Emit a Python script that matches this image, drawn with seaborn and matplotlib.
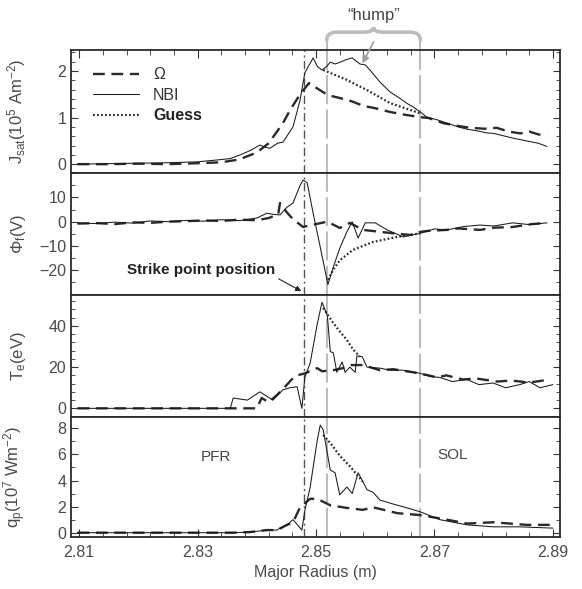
import numpy as np
import pandas as pd
import matplotlib
matplotlib.use("Agg")
import matplotlib.pyplot as plt
import seaborn as sns
from matplotlib.path import Path
from matplotlib.patches import PathPatch
from matplotlib.ticker import MultipleLocator, FixedLocator, FormatStrFormatter

sns.set_style("ticks")
plt.rcParams['font.family'] = ['Liberation Sans', 'DejaVu Sans']
plt.rcParams['mathtext.default'] = 'regular'

# ---------- dados ----------
strike_r = 2.8479          # posição do strike point
hump_lo, hump_hi = 2.8518, 2.8676
x_ticks = [2.81, 2.83, 2.85, 2.87, 2.89]

# J_sat
r_j_omega = [2.8097, 2.815, 2.820, 2.825, 2.830, 2.834, 2.837, 2.840, 2.842, 2.8444, 2.8456,
             2.8473, 2.8488, 2.8495, 2.8505, 2.852, 2.854, 2.856, 2.858, 2.860, 2.8625, 2.865,
             2.8675, 2.869, 2.8715, 2.874, 2.876, 2.8785, 2.8805, 2.8825, 2.8845, 2.886, 2.8875, 2.889]
j_omega = [0.0, 0.0, 0.01, 0.0, 0.02, 0.04, 0.1, 0.25, 0.45, 0.88, 1.16,
           1.5, 1.74, 1.68, 1.6, 1.48, 1.42, 1.35, 1.25, 1.2, 1.12, 1.06,
           1.01, 0.99, 0.88, 0.82, 0.78, 0.76, 0.78, 0.70, 0.66, 0.70, 0.64, 0.60]
r_j_nbi = [2.8097, 2.815, 2.820, 2.825, 2.830, 2.8333, 2.8355, 2.8372, 2.839, 2.8405, 2.8415,
           2.8422, 2.8435, 2.8444, 2.8461, 2.8473, 2.8481, 2.8495, 2.8502, 2.8510, 2.8518,
           2.8524, 2.8532, 2.8541, 2.8550, 2.8561, 2.8574, 2.8583, 2.8591, 2.8608, 2.8625,
           2.8643, 2.8654, 2.8665, 2.8676, 2.8687, 2.8705, 2.8721, 2.874, 2.8755, 2.877,
           2.8789, 2.880, 2.8832, 2.8855, 2.8875, 2.889]
j_nbi = [0.0, 0.01, 0.02, 0.03, 0.05, 0.09, 0.12, 0.2, 0.3, 0.41, 0.36,
         0.34, 0.45, 0.47, 0.80, 1.38, 1.96, 2.28, 2.1, 2.02, 2.1,
         2.19, 2.15, 2.19, 2.24, 2.28, 2.15, 2.13, 2.02, 1.76, 1.55,
         1.4, 1.3, 1.22, 1.12, 1.01, 0.95, 0.88, 0.8, 0.75, 0.72,
         0.67, 0.66, 0.56, 0.5, 0.45, 0.38]
r_j_guess = [2.8512, 2.8550, 2.8586, 2.8625, 2.8676]
j_guess = [2.02, 1.82, 1.59, 1.31, 1.09]

# Phi_f
r_phi_omega = [2.8097, 2.813, 2.816, 2.819, 2.822, 2.825, 2.828, 2.831, 2.834, 2.837, 2.840,
               2.842, 2.8436, 2.8439, 2.8450, 2.8461, 2.8478, 2.849, 2.8519, 2.854, 2.8557,
               2.8579, 2.8608, 2.8637, 2.8660, 2.8676, 2.8690, 2.8721, 2.874, 2.8777, 2.880,
               2.8832, 2.8865, 2.889]
phi_omega = [-0.8, -0.6, -1.0, -0.3, -0.5, 0.0, 0.2, 0.5, 0.3, 0.8, 0.6,
             1.5, 3.0, 7.7, 4.0, 1.0, -2.2, -1.5, 0.0, -2.6, -0.5,
             -3.4, -4.2, -5.0, -5.5, -4.2, -3.8, -3.4, -2.8, -3.4, -2.5,
             -2.2, -1.0, -0.5]
r_phi_nbi = [2.8097, 2.813, 2.816, 2.819, 2.822, 2.825, 2.828, 2.831, 2.834, 2.837, 2.840,
             2.8417, 2.8428, 2.8439, 2.8451, 2.8461, 2.8473, 2.8478, 2.8485, 2.8495, 2.8507,
             2.8520, 2.8529, 2.8540, 2.8552, 2.8561, 2.8571, 2.8583, 2.8600, 2.8620, 2.8647,
             2.8676, 2.870, 2.8721, 2.875, 2.8777, 2.880, 2.8832, 2.886, 2.889]
phi_nbi = [-0.6, -0.8, -0.2, -0.6, 0.3, 0.0, 0.5, 0.2, 0.8, 0.4, 1.5,
           3.5, 3.0, 2.8, 6.0, 7.7, 15.0, 17.2, 16.0, 3.5, -10.5,
           -26.0, -18.8, -11.0, -4.2, -0.1, -6.8, -0.5, -0.5, -3.4, -6.3,
           -4.8, -3.0, -3.4, -2.0, -1.4, -1.8, -0.5, -1.2, -0.5]
r_phi_guess = [2.8520, 2.8530, 2.8540, 2.8562, 2.8596, 2.8637, 2.8676]
phi_guess = [-24.0, -19.5, -16.0, -11.7, -8.4, -6.3, -4.8]

# T_e
r_te_omega = [2.8097, 2.8400, 2.8408, 2.8420, 2.8434, 2.8446, 2.8461, 2.8468, 2.8481, 2.8502,
              2.8510, 2.8529, 2.8545, 2.856, 2.8579, 2.8608, 2.863, 2.8664, 2.8690, 2.8704,
              2.872, 2.8748, 2.877, 2.8806, 2.883, 2.886, 2.8895]
te_omega = [0.0, 0.0, 5.0, 3.0, 6.5, 10.0, 14.7, 16.0, 17.0, 19.5,
            18.0, 18.5, 19.5, 21.0, 21.0, 18.5, 19.0, 17.5, 16.0, 15.0,
            16.0, 14.0, 14.5, 13.0, 13.5, 12.5, 14.0]
r_te_nbi = [2.8097, 2.8355, 2.8360, 2.8384, 2.8405, 2.8427, 2.8444, 2.8456, 2.8468, 2.8476,
            2.8481, 2.8490, 2.8502, 2.8510, 2.8519, 2.8524, 2.8529, 2.8535, 2.8544, 2.8549,
            2.8557, 2.8566, 2.8569, 2.8578, 2.8586, 2.8608, 2.8625, 2.8647, 2.8676, 2.8692,
            2.8709, 2.8730, 2.8755, 2.8775, 2.8799, 2.8820, 2.8844, 2.8860, 2.8878, 2.8900]
te_nbi = [0.0, 0.0, 5.0, 4.0, 8.0, 4.0, 9.0, 10.0, 10.5, 0.0,
          15.0, 22.0, 41.0, 51.5, 45.0, 27.5, 27.0, 17.5, 22.5, 17.5,
          20.0, 17.5, 25.5, 25.0, 20.0, 19.5, 18.5, 18.5, 17.0, 15.5,
          15.0, 13.0, 14.0, 11.5, 12.3, 10.0, 11.5, 13.0, 10.0, 11.5]
r_te_guess = [2.8512, 2.8529, 2.8540, 2.8552, 2.8562, 2.8574]
te_guess = [48.7, 41.4, 37.3, 33.2, 28.8, 25.0]

# q_p
r_q_omega = [2.8097, 2.8360, 2.8389, 2.8417, 2.8434, 2.8451, 2.8461, 2.8473, 2.8490, 2.8502,
             2.8524, 2.8552, 2.8579, 2.8596, 2.8637, 2.8676, 2.8721, 2.8755, 2.8799, 2.8856,
             2.8895]
q_omega = [0.0, 0.0, 0.05, 0.2, 0.2, 0.6, 0.8, 1.95, 2.6, 2.6,
           2.1, 1.9, 1.75, 1.95, 1.5, 1.35, 1.0, 0.7, 0.8, 0.6,
           0.6]
r_q_nbi = [2.8097, 2.8360, 2.8389, 2.8417, 2.8434, 2.8439, 2.8451, 2.8461, 2.8476, 2.8481,
           2.8490, 2.8502, 2.8507, 2.8512, 2.8524, 2.8532, 2.8540, 2.8552, 2.8561, 2.8571,
           2.8578, 2.8586, 2.8596, 2.8608, 2.8630, 2.8654, 2.8676, 2.8709, 2.8755, 2.8799,
           2.8844, 2.8900]
q_nbi = [0.0, 0.0, 0.05, 0.2, 0.2, 0.35, 0.6, 1.0, 0.2, 1.7,
         3.5, 7.1, 8.25, 7.9, 4.8, 4.6, 2.9, 3.5, 3.0, 4.6,
         4.0, 3.3, 3.1, 2.5, 2.2, 1.9, 1.6, 1.0, 0.6, 0.45,
         0.45, 0.35]
r_q_guess = [2.8512, 2.8527, 2.8540, 2.8557, 2.8579]
q_guess = [7.5, 6.7, 5.9, 5.1, 3.9]

panels = [
    (r_j_omega, j_omega, r_j_nbi, j_nbi, r_j_guess, j_guess,
     r'J$_{sat}$(10$^5$ Am$^{-2}$)', (-0.19, 2.45), [0, 1, 2], 0.2),
    (r_phi_omega, phi_omega, r_phi_nbi, phi_nbi, r_phi_guess, phi_guess,
     r'$\Phi_f$(V)', (-30.3, 20.1), [-20, -10, 0, 10], 5),
    (r_te_omega, te_omega, r_te_nbi, te_nbi, r_te_guess, te_guess,
     r'T$_e$(eV)', (-4.2, 55), [0, 20, 40], 4),
    (r_q_omega, q_omega, r_q_nbi, q_nbi, r_q_guess, q_guess,
     r'q$_p$(10$^7$ Wm$^{-2}$)', (-0.33, 8.87), [0, 2, 4, 6, 8], 1),
]

# ---------- figura ----------
W, H = 582, 589
fig = plt.figure(figsize=(W / 100, H / 100), dpi=100)
x0, x1 = 71, 560
edges = [50, 173, 295, 417, 537]
txt_c = '#4a4a4a'
axes = []
for i, (ro, vo, rn, vn, rg, vg, ylab, ylim, yt, mnr) in enumerate(panels):
    ax = fig.add_axes([x0 / W, 1 - edges[i + 1] / H, (x1 - x0) / W, (edges[i + 1] - edges[i]) / H])
    axes.append(ax)
    sns.lineplot(x=ro, y=vo, ax=ax, color='#2a2a2a', lw=1.7, estimator=None, sort=False,
                 label='Ω', zorder=3)
    ax.lines[-1].set_dashes((5, 2.8))
    sns.lineplot(x=rn, y=vn, ax=ax, color='#1a1a1a', lw=0.75, estimator=None, sort=False,
                 label='NBI', zorder=3)
    sns.lineplot(x=rg, y=vg, ax=ax, color='#2a2a2a', lw=1.6, estimator=None, sort=False,
                 label='Guess', zorder=3)
    ax.lines[-1].set_dashes((0.8, 1.0))
    ax.axvline(strike_r, color='#555555', lw=1.0, dashes=(6, 2.5, 1.5, 2.5), zorder=1)
    for xv in (hump_lo, hump_hi):
        ax.axvline(xv, color='#bcbcbc', lw=1.5, dashes=(14, 2.5), zorder=1)
    ax.set_xlim(2.8086, 2.8912)
    ax.set_ylim(*ylim)
    ax.yaxis.set_major_locator(FixedLocator(yt))
    ax.yaxis.set_minor_locator(MultipleLocator(mnr))
    ax.xaxis.set_major_locator(FixedLocator(x_ticks))
    ax.xaxis.set_minor_locator(MultipleLocator(0.004, offset=0.002))
    ax.set_ylabel(ylab, fontsize=12, color=txt_c)
    ax.yaxis.set_label_coords(-0.088, 0.5)
    ax.tick_params(axis='y', which='both', direction='in', left=True, right=True,
                   labelsize=11.5, labelcolor=txt_c, color='#333333')
    ax.tick_params(axis='y', which='major', length=5)
    ax.tick_params(axis='y', which='minor', length=3)
    ax.tick_params(axis='x', which='both', direction='in', top=(i == 0), bottom=(i == 3),
                   labelbottom=(i == 3), labelsize=11.5, labelcolor=txt_c, color='#333333', pad=6)
    ax.tick_params(axis='x', which='major', length=6)
    ax.tick_params(axis='x', which='minor', length=3.5)
    ax.set_xlabel('')
    for s in ax.spines.values():
        s.set_color('#2a2a2a')
        s.set_linewidth(1.3)
    if ax.get_legend() is not None:
        ax.get_legend().remove()

ax1, ax2, ax3, ax4 = axes
ax4.set_xlabel('Major Radius (m)', fontsize=11.5, color=txt_c, labelpad=3)
ax4.xaxis.set_major_formatter(FormatStrFormatter('%.2f'))

# legenda
leg = ax1.legend(handles=ax1.lines[:3], labels=['Ω', 'NBI', 'Guess'], loc='upper left',
                 bbox_to_anchor=(0.045, 0.86), frameon=False, fontsize=11.5,
                 handlelength=2.9, handletextpad=0.85, labelspacing=0.35,
                 borderpad=0, borderaxespad=0)
for t in leg.get_texts():
    t.set_color('#333333')
leg.get_texts()[2].set_fontweight('bold')
leg.get_texts()[2].set_color('#222222')

# linhas cinzas acima do painel 1 até a chave
tr1 = ax1.get_xaxis_transform()
for xv in (hump_lo, hump_hi):
    ax1.plot([xv, xv], [1.0, 1.08], transform=tr1, color='#bcbcbc', lw=1.5,
             clip_on=False, zorder=1)

# chave "hump"
mid = (hump_lo + hump_hi) / 2
dx = 0.0017
yb, ytp, yp = 1.08, 1.145, 1.185
verts = [(hump_lo, yb), (hump_lo, ytp), (hump_lo + dx, ytp),
         (mid - dx, ytp), (mid, ytp), (mid, yp),
         (mid, ytp), (mid + dx, ytp),
         (hump_hi - dx, ytp), (hump_hi, ytp), (hump_hi, yb)]
codes = [Path.MOVETO, Path.CURVE3, Path.CURVE3,
         Path.LINETO, Path.CURVE3, Path.CURVE3,
         Path.CURVE3, Path.CURVE3,
         Path.LINETO, Path.CURVE3, Path.CURVE3]
ax1.add_patch(PathPatch(Path(verts, codes), transform=tr1, fill=False,
                        edgecolor='#bcbcbc', lw=2.6, clip_on=False, capstyle='round'))
ax1.text(mid, 1.28, '\u201chump\u201d', transform=tr1, ha='center', va='center',
         fontsize=12, color='#444444')
ax1.annotate('', xy=(2.8578, 2.16), xycoords='data',
             xytext=(mid, 1.065), textcoords=tr1,
             arrowprops=dict(arrowstyle='-|>', color='#a0a0a0', lw=1.3,
                             mutation_scale=10, shrinkA=0, shrinkB=0),
             annotation_clip=False)

# strike point
ax2.annotate('Strike point position', xy=(2.8475, -28.7), xytext=(2.8306, -20),
             ha='center', va='center', fontsize=11, fontweight='bold', color='#222222',
             arrowprops=dict(arrowstyle='-|>', color='#222222', lw=0.8,
                             mutation_scale=8, shrinkA=48, shrinkB=0,
                             relpos=(1.0, 0.0)))

ax4.text(2.8330, 5.8, 'PFR', ha='center', va='center', fontsize=11, color='#444444')
ax4.text(2.8730, 5.96, 'SOL', ha='center', va='center', fontsize=11, color='#444444')

fig.savefig('out.png', dpi=100)
